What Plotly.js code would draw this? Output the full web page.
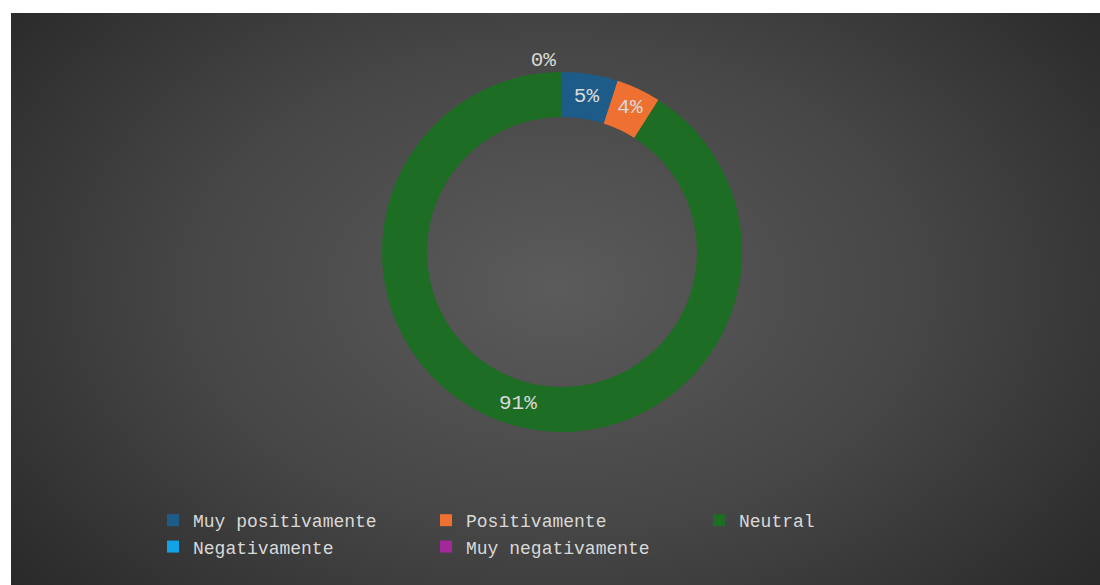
<!DOCTYPE html>
<html>
<head>
<meta charset="utf-8">
<script src="https://cdn.plot.ly/plotly-3.0.1.min.js"></script>
<style>
  html, body { margin: 0; padding: 0; background: #ffffff; width: 1100px; height: 585px; overflow: hidden; }
  #chart {
    position: absolute; left: 11px; top: 13px; width: 1089px; height: 572px;
    background: radial-gradient(ellipse 75% 95% at 50% 48%, #5b5b5b 0%, #464646 45%, #2a2a2a 85%, #262626 100%);
  }
</style>
</head>
<body>
<div id="chart"></div>
<script>
const categories = ["Muy positivamente", "Positivamente", "Neutral", "Negativamente", "Muy negativamente"];
const values = [5, 4, 91, 0, 0];
const colors = ["#1d5c88", "#ef7131", "#1d6d24", "#12a3e6", "#a2289c"];

const trace = {
  type: "pie",
  labels: categories,
  values: values,
  sort: false,
  direction: "clockwise",
  rotation: 0,
  hole: 0.75,
  marker: { colors: colors, line: { width: 0 } },
  textinfo: "percent",
  texttemplate: "%{percent:.0%}",
  textposition: ["inside", "inside", "inside", "outside", "none"],
  insidetextorientation: "horizontal",
  textfont: { family: "Liberation Mono, Courier New, monospace", size: 21, color: "#d9d9d9" },
  domain: { x: [0.3070, 0.7075], y: [0.2675, 0.8969] },
  hoverinfo: "label+percent"
};

const layout = {
  width: 1089, height: 572,
  margin: { l: 95, r: 95, t: 0, b: 0, autoexpand: false },
  paper_bgcolor: "rgba(0,0,0,0)",
  plot_bgcolor: "rgba(0,0,0,0)",
  showlegend: true,
  legend: {
    orientation: "h",
    x: 0.0523, xanchor: "left",
    y: 0.035, yanchor: "bottom",
    entrywidth: 228,
    traceorder: "normal",
    font: { family: "Liberation Mono, Courier New, monospace", size: 18, color: "#d9d9d9" },
    bgcolor: "rgba(0,0,0,0)",
    itemwidth: 30
  }
};

Plotly.newPlot("chart", [trace], layout, { displayModeBar: false, staticPlot: true });
</script>
</body>
</html>
